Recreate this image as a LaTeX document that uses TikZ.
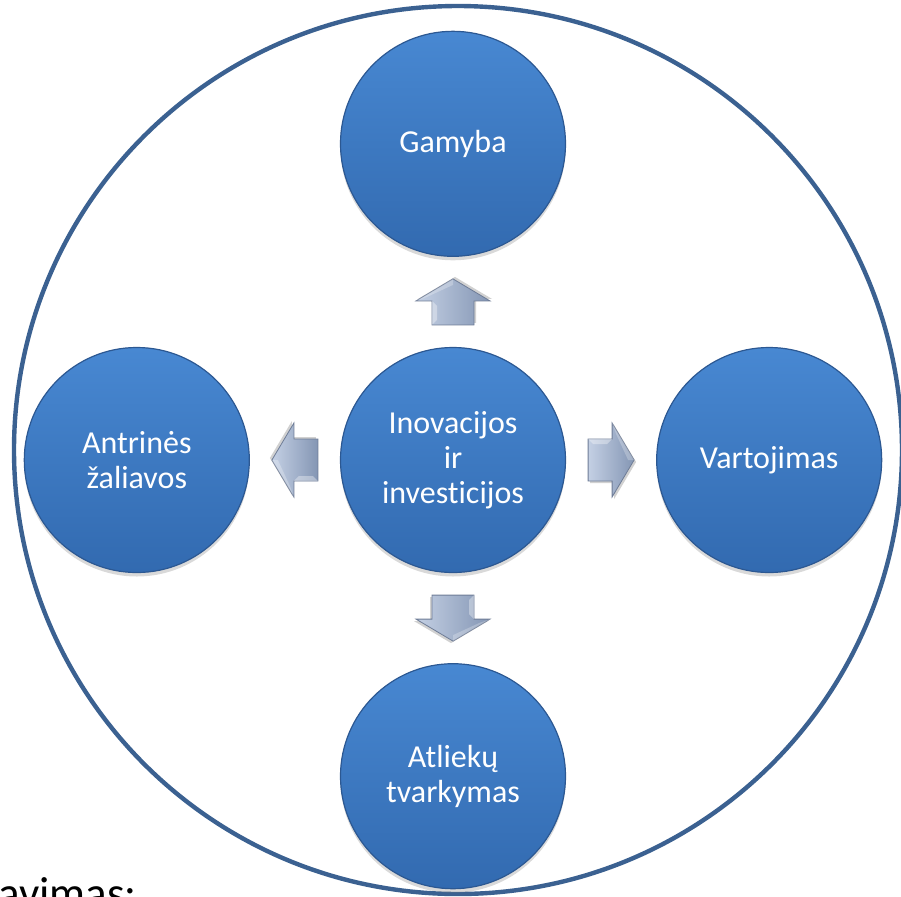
\documentclass[tikz,border=0pt]{standalone}
\usepackage{fontspec}
\setmainfont[Ligatures=NoCommon]{Carlito}
\usetikzlibrary{positioning,calc,shadows}

\definecolor{ringblue}{RGB}{59,97,145}
\definecolor{balltop}{RGB}{72,136,210}
\definecolor{ballbot}{RGB}{50,106,176}
\definecolor{ballrim}{RGB}{44,88,146}
\definecolor{arrlight}{RGB}{196,208,228}
\definecolor{arrdark}{RGB}{132,150,180}
\definecolor{arrrim}{RGB}{110,124,150}

\tikzset{every node/.style={inner sep=0pt}}
\tikzstyle{stage}=[circle, minimum size=112.5pt, align=center, text=white,
  font=\fontsize{16}{17.5}\selectfont, top color=balltop, bottom color=ballbot,
  draw=ballrim, line width=0.6pt,
  drop shadow={opacity=0.3, shadow xshift=0pt, shadow yshift=-2pt}]
\tikzset{blkarrow/.pic={
    \fill[black, opacity=0.18] (-21,-19) -- (3,-19) -- (3,-35) -- (25,2) -- (3,39) -- (3,23) -- (-21,23) -- cycle;
    \draw[arrrim, line width=0.4pt, left color=arrlight, right color=arrdark]
      (-23,-21) -- (1,-21) -- (1,-37) -- (23,0) -- (1,37) -- (1,21) -- (-23,21) -- cycle;
    \fill[white, opacity=0.35] (-23,-21) -- (1,-21) -- (-4,-16) -- (-18,-16) -- cycle;
    \fill[white, opacity=0.25] (1,-37) -- (23,0) -- (17,0) -- (5,-26) -- cycle;
  }}

\begin{document}
\begin{tikzpicture}[x=0.5pt, y=-0.5pt, node distance=45pt]
  \useasboundingbox (0,0) rectangle (901,896);

  % outer ring
  \draw[ringblue, line width=2.2pt] (458,450) circle [radius=222pt];

  \node [stage] (inov) at (453,460) {Inovacijos\\ir\\investicijos};
  \node [stage, above=of inov] (gamyba) {Gamyba};
  \node [stage, right=of inov] (vart) {Vartojimas};
  \node [stage, below=of inov] (atliek) {Atliekų\\tvarkymas};
  \node [stage, left=of inov] (antr) {Antrinės\\žaliavos};

  % block arrows between the circles
  \coordinate (up) at ($(inov.north)!0.5!(gamyba.south)$);
  \coordinate (rt) at ($(inov.east)!0.5!(vart.west)$);
  \coordinate (dn) at ($(inov.south)!0.5!(atliek.north)$);
  \coordinate (lt) at ($(inov.west)!0.5!(antr.east)$);
  \pic [rotate=90] at (up) {blkarrow};
  \pic [rotate=0] at (rt) {blkarrow};
  \pic [rotate=270] at (dn) {blkarrow};
  \pic [rotate=180] at (lt) {blkarrow};

  \node [anchor=base west, font=\fontsize{22.5}{27}\selectfont] (cap) at (-2,908) {avimas:};
\end{tikzpicture}
\end{document}
